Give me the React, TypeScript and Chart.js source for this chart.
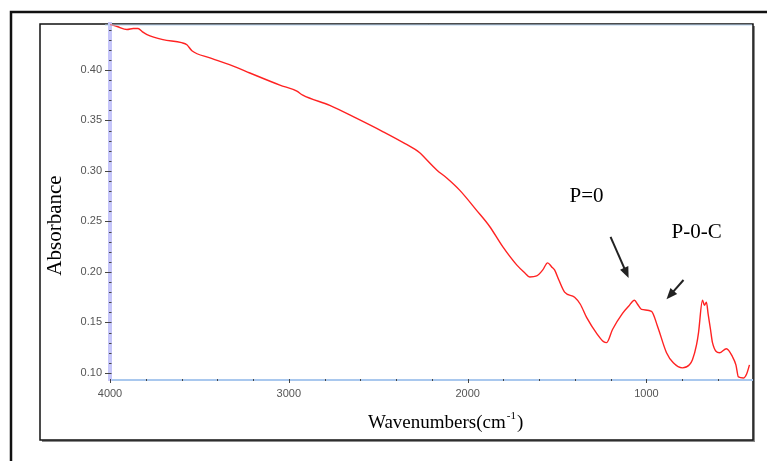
import { useEffect, useRef } from "react";
import { Chart, registerables } from "chart.js";

Chart.register(...registerables);

// FTIR spectrum: wavenumber (cm-1) vs absorbance
const wavenumbers = [
  4000, 3960, 3905, 3870, 3843, 3820, 3793, 3704, 3600, 3570, 3542, 3441, 3300, 3218,
  3050, 2955, 2922, 2771, 2620, 2475, 2350, 2268, 2240, 2173, 2117, 2045, 1950, 1877,
  1804, 1726, 1680, 1653, 1614, 1580, 1553, 1530, 1514, 1490, 1458, 1402, 1370, 1335,
  1274, 1240, 1223, 1190, 1134, 1100, 1067, 1050, 1028, 972, 938, 888, 850, 799, 760,
  743, 720, 709, 687, 676, 665, 655, 642, 631, 592, 553, 519, 500, 486, 458, 440, 424,
];
const absorbance = [
  0.445, 0.443, 0.44, 0.441, 0.441, 0.438, 0.435, 0.43, 0.427, 0.425, 0.419, 0.412, 0.403, 0.397,
  0.385, 0.379, 0.375, 0.365, 0.352, 0.339, 0.327, 0.318, 0.313, 0.301, 0.293, 0.281, 0.261, 0.245,
  0.225, 0.207, 0.199, 0.195, 0.196, 0.202, 0.209, 0.205, 0.202, 0.192, 0.18, 0.175, 0.168, 0.155,
  0.138, 0.131, 0.13, 0.143, 0.159, 0.166, 0.172, 0.168, 0.163, 0.161, 0.146, 0.12, 0.11, 0.105, 0.108,
  0.113, 0.128, 0.14, 0.172, 0.167, 0.17, 0.158, 0.143, 0.13, 0.12, 0.124, 0.116, 0.108, 0.096, 0.095, 0.099, 0.108,
];

const xMajorTicks = [4000, 3000, 2000, 1000];
const yMajorTicks = [0.1, 0.15, 0.2, 0.25, 0.3, 0.35, 0.4];

const xTitle = "Wavenumbers(cm";
const xTitleSup = "-1";
const yTitle = "Absorbance";

// band assignments: label anchor and arrow, in data units
const bandLabels = ["P=0", "P-0-C"];
const bandLabelAt = [
  [1335, 0.269],
  [720, 0.2337],
];
const arrowFrom = [
  [1201, 0.2347],
  [793, 0.192],
];
const arrowTo = [
  [1100, 0.194],
  [888, 0.173],
];

const SERIF = "'Liberation Serif', 'Times New Roman', serif";
const SANS = "'Liberation Sans', Arial, sans-serif";

const framePlugin = {
  id: "frame",
  beforeDraw(chart: any) {
    const ctx = chart.ctx as CanvasRenderingContext2D;
    const { top, right } = chart.chartArea;
    ctx.save();
    ctx.fillStyle = "#fff";
    ctx.fillRect(0, 0, chart.width, chart.height);
    // outer frame
    ctx.strokeStyle = "#111";
    ctx.lineWidth = 2.5;
    ctx.beginPath();
    ctx.moveTo(11, chart.height + 5);
    ctx.lineTo(11, 12);
    ctx.lineTo(chart.width + 5, 12);
    ctx.stroke();
    // inner panel with drop shadow
    const l = 40;
    const b = 440;
    ctx.fillStyle = "#8a8a8a";
    ctx.fillRect(l + 2, top + 2, right + 1 - l, b - top);
    ctx.fillStyle = "#fff";
    ctx.fillRect(l, top, right + 1 - l, b - top);
    ctx.strokeStyle = "#111";
    ctx.lineWidth = 1.5;
    ctx.strokeRect(l, top, right + 1 - l, b - top);
    ctx.restore();
  },
  afterDraw(chart: any) {
    const ctx = chart.ctx as CanvasRenderingContext2D;
    const xs = chart.scales.x;
    const ys = chart.scales.y;
    const { left, bottom, top } = chart.chartArea;
    ctx.save();
    // light top edge of the plot
    ctx.strokeStyle = "#b8d4f0";
    ctx.lineWidth = 1;
    ctx.beginPath();
    ctx.moveTo(left - 5, top + 1);
    ctx.lineTo(chart.chartArea.right, top + 1);
    ctx.stroke();

    // tick marks
    ctx.strokeStyle = "#444";
    ctx.lineWidth = 1;
    for (let v = 4000; v >= xs.min; v -= 200) {
      const px = Math.round(xs.getPixelForValue(v)) + 0.5;
      const major = v % 1000 === 0;
      ctx.beginPath();
      ctx.moveTo(px, bottom - 1);
      ctx.lineTo(px, bottom + (major ? 3 : 1));
      ctx.stroke();
    }
    for (let i = 10; i <= 44; i++) {
      const v = i / 100;
      const py = Math.round(ys.getPixelForValue(v)) + 0.5;
      const major = i % 5 === 0;
      ctx.beginPath();
      ctx.moveTo(major ? left - 5 : left - 1, py);
      ctx.lineTo(left + 1.5, py);
      ctx.stroke();
    }

    // axis titles
    ctx.fillStyle = "#000";
    ctx.textBaseline = "alphabetic";
    ctx.save();
    ctx.translate(61, 225.5);
    ctx.rotate(-Math.PI / 2);
    ctx.font = `21px ${SERIF}`;
    ctx.textAlign = "center";
    ctx.fillText(yTitle, 0, 0);
    ctx.restore();

    ctx.textAlign = "left";
    ctx.font = `19px ${SERIF}`;
    let tx = 368;
    const ty = 428;
    ctx.fillText(xTitle, tx, ty);
    tx += ctx.measureText(xTitle).width + 1;
    ctx.font = `11px ${SERIF}`;
    ctx.fillText(xTitleSup, tx, ty - 9);
    tx += ctx.measureText(xTitleSup).width + 1;
    ctx.font = `19px ${SERIF}`;
    ctx.fillText(")", tx, ty);

    // band labels and arrows
    ctx.font = `21px ${SERIF}`;
    ctx.textAlign = "center";
    bandLabels.forEach((label, i) => {
      ctx.fillStyle = "#000";
      ctx.fillText(label, xs.getPixelForValue(bandLabelAt[i][0]), ys.getPixelForValue(bandLabelAt[i][1]));
      const x0 = xs.getPixelForValue(arrowFrom[i][0]);
      const y0 = ys.getPixelForValue(arrowFrom[i][1]);
      const x1 = xs.getPixelForValue(arrowTo[i][0]);
      const y1 = ys.getPixelForValue(arrowTo[i][1]);
      const ang = Math.atan2(y1 - y0, x1 - x0);
      const head = 11;
      const hw = 4.5;
      ctx.strokeStyle = "#222";
      ctx.lineWidth = 2;
      ctx.beginPath();
      ctx.moveTo(x0, y0);
      ctx.lineTo(x1 - Math.cos(ang) * head * 0.8, y1 - Math.sin(ang) * head * 0.8);
      ctx.stroke();
      ctx.fillStyle = "#222";
      ctx.beginPath();
      ctx.moveTo(x1, y1);
      ctx.lineTo(
        x1 - Math.cos(ang) * head - Math.sin(ang) * hw,
        y1 - Math.sin(ang) * head + Math.cos(ang) * hw
      );
      ctx.lineTo(
        x1 - Math.cos(ang) * head + Math.sin(ang) * hw,
        y1 - Math.sin(ang) * head - Math.cos(ang) * hw
      );
      ctx.closePath();
      ctx.fill();
    });
    ctx.restore();
  },
};

export default function App() {
  const canvasRef = useRef<HTMLCanvasElement | null>(null);

  useEffect(() => {
    const canvas = canvasRef.current;
    if (!canvas) return;
    const points = wavenumbers.map((w, i) => ({ x: w, y: absorbance[i] }));
    const chart = new Chart(canvas, {
      type: "line",
      data: {
        datasets: [
          {
            data: points,
            borderColor: "#ff2222",
            borderWidth: 1.4,
            pointRadius: 0,
            fill: false,
            cubicInterpolationMode: "monotone",
          },
        ],
      },
      options: {
        animation: false,
        responsive: false,
        maintainAspectRatio: false,
        events: [],
        layout: { padding: { left: 0, right: 15, top: 24, bottom: 0 } },
        plugins: { legend: { display: false }, tooltip: { enabled: false }, title: { display: false } },
        scales: {
          x: {
            type: "linear",
            reverse: true,
            min: 410,
            max: 4000,
            grid: { display: false, drawTicks: false },
            border: { display: true, color: "#a9c8ee", width: 2 },
            afterBuildTicks: (scale: any) => {
              scale.ticks = xMajorTicks.map((v) => ({ value: v }));
            },
            afterFit: (scale: any) => {
              scale.height = 81;
            },
            ticks: {
              padding: 7,
              maxRotation: 0,
              autoSkip: false,
              color: "#555",
              font: { family: SANS, size: 11 },
              callback: (v: any) => String(v),
            },
          },
          y: {
            type: "linear",
            min: 0.093,
            max: 0.4455,
            grid: { display: false, drawTicks: false },
            border: { display: true, color: "#c6c6fa", width: 4 },
            afterBuildTicks: (scale: any) => {
              scale.ticks = yMajorTicks.map((v) => ({ value: v }));
            },
            afterFit: (scale: any) => {
              scale.width = 110;
            },
            ticks: {
              padding: 8,
              autoSkip: false,
              color: "#555",
              font: { family: SANS, size: 11 },
              callback: (v: any) => Number(v).toFixed(2),
            },
          },
        },
      },
      plugins: [framePlugin],
    });
    return () => chart.destroy();
  }, []);

  return (
    <div style={{ position: "fixed", left: 0, top: 0, width: 767, height: 461, background: "#fff" }}>
      <canvas ref={canvasRef} width={767} height={461} style={{ display: "block", width: 767, height: 461 }} />
    </div>
  );
}
